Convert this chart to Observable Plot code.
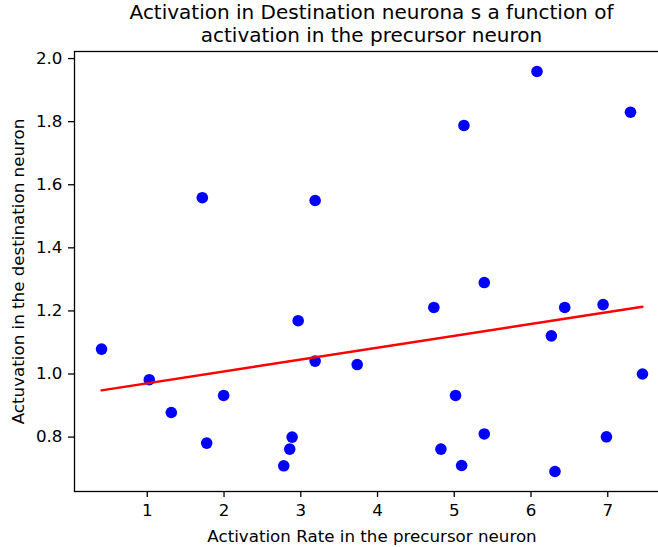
<!DOCTYPE html>
<html>
<head>
<meta charset="utf-8">
<script src="https://cdn.jsdelivr.net/npm/d3@7"></script>
<script src="https://cdn.jsdelivr.net/npm/@observablehq/plot@0.6"></script>
<style>
  html, body { margin: 0; padding: 0; background: #fff; overflow: hidden; }
  #wrap { width: 658px; height: 547px; overflow: hidden; position: relative; }
  #title {
    box-sizing: border-box; width: 670px; height: 46px;
    padding: 1px 1px 0 74px;
    font-family: "DejaVu Sans", sans-serif; font-size: 20px; line-height: 23.3px;
    text-align: center; color: #000; white-space: nowrap;
  }
  #chart svg { max-width: none !important; display: block; }
</style>
</head>
<body>
<div id="wrap">
  <div id="title">Activation in Destination neurona s a function of<br>activation in the precursor neuron</div>
  <div id="chart"></div>
</div>
<script>
// Data
const precursor = [0.404, 1.026, 1.313, 1.717, 1.774, 1.995, 2.778, 2.856, 2.887, 2.966,
  3.187, 3.187, 3.735, 4.734, 4.826, 5.017, 5.096, 5.126, 5.391, 5.391,
  6.078, 6.265, 6.312, 6.439, 6.939, 6.983, 7.296, 7.452];
const destination = [1.079, 0.982, 0.878, 1.559, 0.781, 0.932, 0.709, 0.762, 0.800, 1.169,
  1.550, 1.041, 1.030, 1.211, 0.762, 0.932, 0.710, 1.788, 1.290, 0.810,
  1.959, 1.121, 0.691, 1.211, 1.220, 0.801, 1.830, 1.000];
const xTicks = [1, 2, 3, 4, 5, 6, 7];
const yTicks = [0.8, 1.0, 1.2, 1.4, 1.6, 1.8, 2.0];
const title = "Activation in Destination neurona s a function of activation in the precursor neuron";
const xLabel = "Activation Rate in the precursor neuron";
const yLabel = "Actuvation in the destination neuron";

const points = precursor.map((x, i) => ({x, y: destination[i]}));

function padded(values, frac) {
  const [lo, hi] = d3.extent(values);
  const m = (hi - lo) * frac;
  return [lo - m, hi + m];
}

const chart = Plot.plot({
  width: 670,
  height: 501,
  marginLeft: 74,
  marginRight: 1,
  marginTop: 5,
  marginBottom: 56,
  style: {fontFamily: "DejaVu Sans, sans-serif", fontSize: "16.7px", color: "black", background: "white", overflow: "visible", maxWidth: "none"},
  x: {domain: padded(precursor, 0.05)},
  y: {domain: padded(destination, 0.05)},
  marks: [
    Plot.axisX({ticks: xTicks, tickFormat: d3.format("d"), tickSize: 6, tickPadding: 7, strokeWidth: 1.3,
      label: xLabel, labelAnchor: "center", labelOffset: 50, labelArrow: "none"}),
    Plot.axisY({ticks: yTicks, tickFormat: d3.format(".1f"), tickSize: 6, tickPadding: 6, strokeWidth: 1.3,
      label: yLabel, labelAnchor: "center", labelOffset: 62, labelArrow: "none"}),
    Plot.dot(points, {x: "x", y: "y", r: 5.8, fill: "#0000ff", stroke: "none"}),
    Plot.linearRegressionY(points, {x: "x", y: "y", ci: 0, stroke: "#ff0000", strokeWidth: 2.4}),
    Plot.frame({stroke: "black", strokeWidth: 1.3})
  ]
});
chart.style.maxWidth = "none";
chart.setAttribute("aria-label", title);
document.getElementById("chart").appendChild(chart);
</script>
</body>
</html>
